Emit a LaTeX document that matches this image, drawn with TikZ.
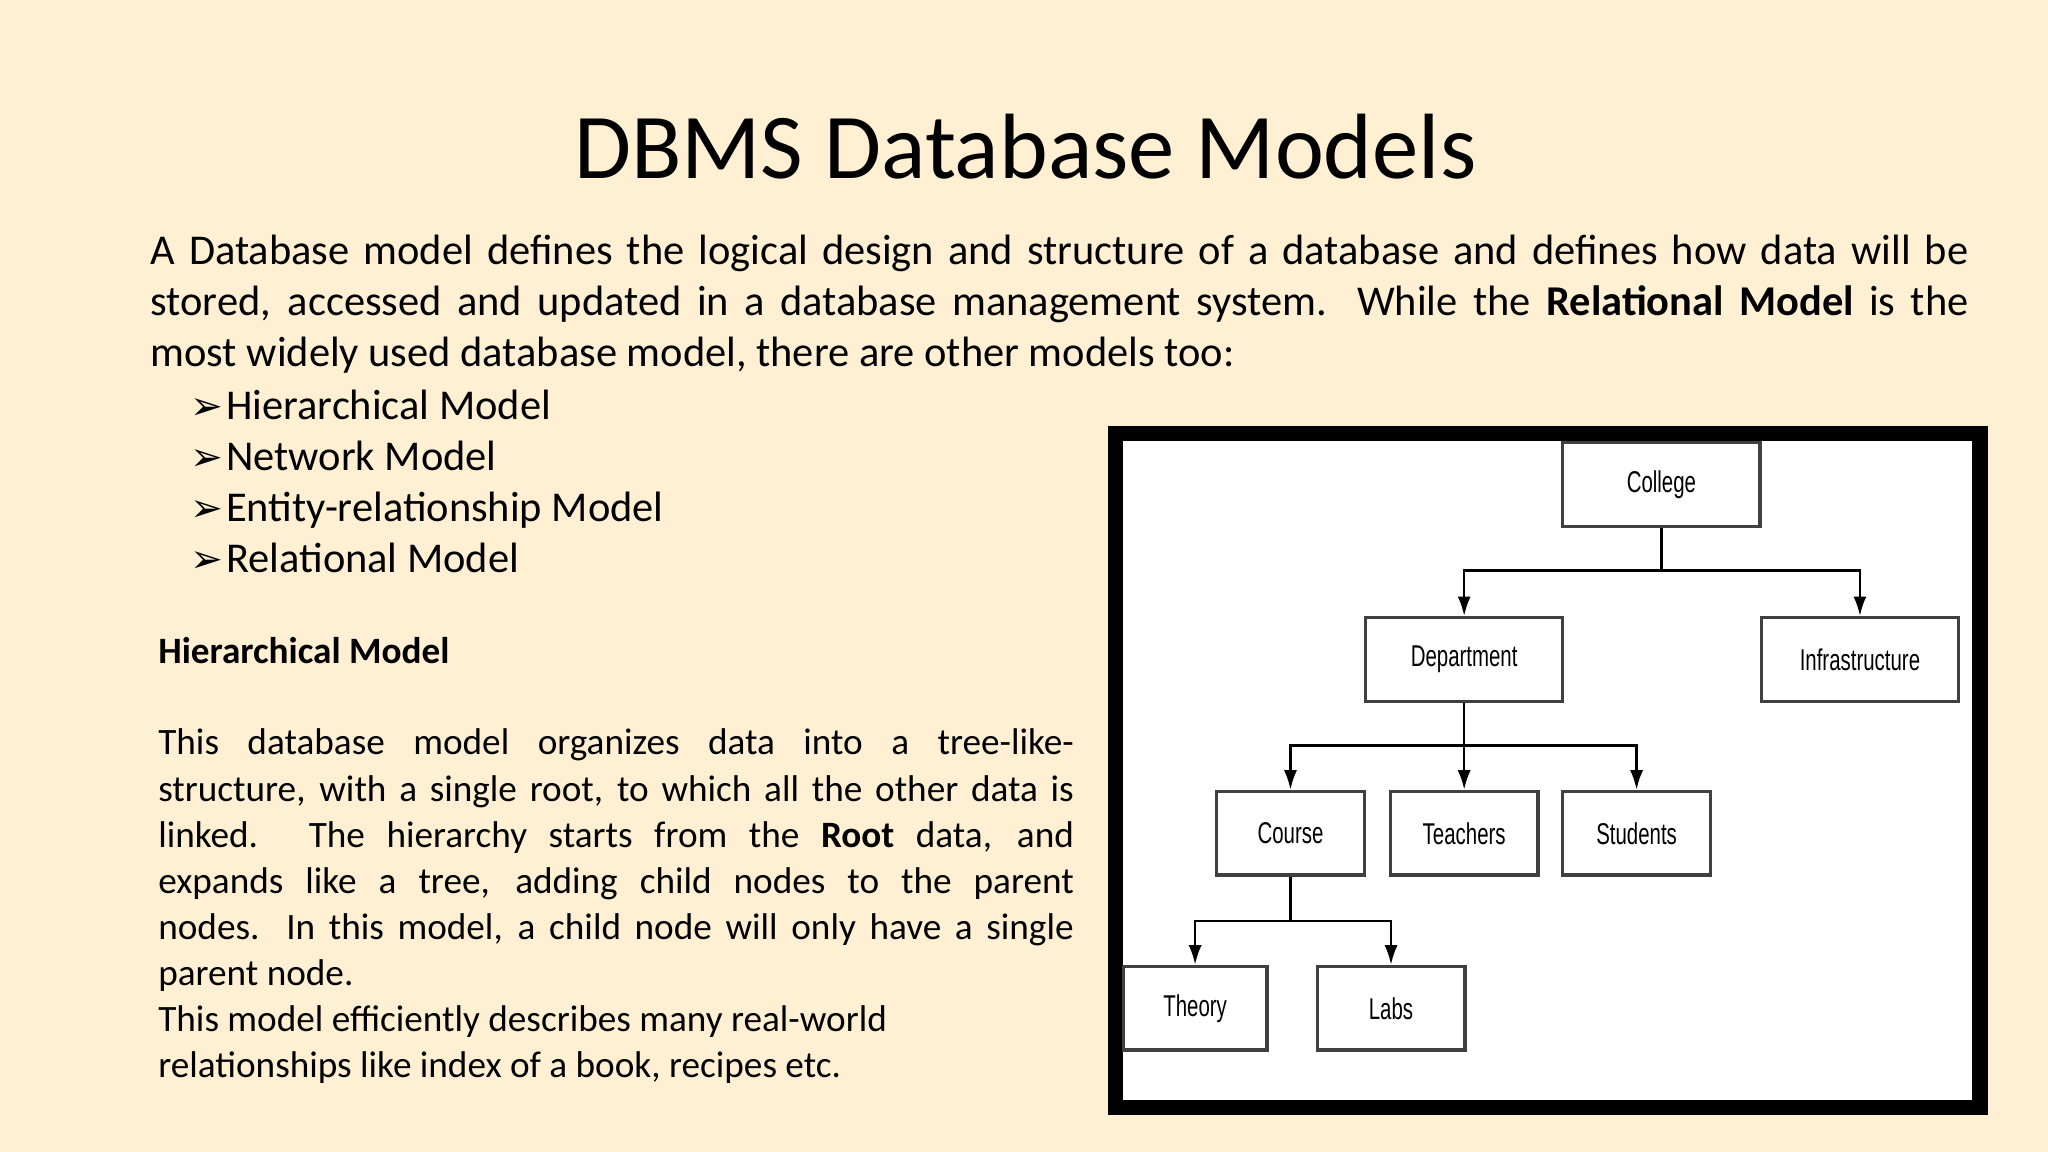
\documentclass[tikz,border=0pt]{standalone}
\usepackage{fontspec}
\setmainfont{Carlito}
\newfontfamily\boxfont{Liberation Sans}
\newfontfamily\symfont{DejaVu Sans}
\usetikzlibrary{arrows.meta}
\definecolor{bg}{HTML}{FFF0D4}
\tikzset{
  tbox/.style={draw=black!75,line width=2.6pt,fill=white,minimum width=#1,minimum height=64pt,inner sep=0pt},
  tlabel/.style={font=\boxfont\fontsize{23}{26}\selectfont},
  conn/.style={line width=2pt,black},
  arr/.style={conn,-{Latex[length=15pt,width=10pt]}},
  bul/.style={anchor=base west,inner sep=0pt,font=\fontsize{32.5}{38}\selectfont},
  bsym/.style={anchor=base west,inner sep=0pt,font=\symfont\fontsize{30}{36}\selectfont}
}
\newcommand{\bx}[1]{\scalebox{0.68}[1]{#1}}
\begin{document}
\begin{tikzpicture}[x=1pt,y=-1pt]
\useasboundingbox (0,0) rectangle (1568,882);
\fill[bg] (0,0) rectangle (1568,882);
\node[font=\fontsize{71}{76}\selectfont,anchor=base] (title) at (785,137) {DBMS Database Models};
\node[anchor=north west,inner sep=0pt,text width=1392pt,align=justify,font=\fontsize{32.5}{39}\selectfont] (intro) at (115,180)
{\hyphenpenalty=10000 A Database model defines the logical design and structure of a database and defines how data will be\linebreak stored, accessed and updated in a database management system. While the \textbf{Relational Model} is the\linebreak most widely used database model, there are other models too:};
\node[bsym] (b1) at (146,321) {➢};
\node[bul] (t1) at (173,321) {Hierarchical Model};
\node[bsym] (b2) at (146,360) {➢};
\node[bul] (t2) at (173,360) {Network Model};
\node[bsym] (b3) at (146,399) {➢};
\node[bul] (t3) at (173,399) {Entity-relationship Model};
\node[bsym] (b4) at (146,438) {➢};
\node[bul] (t4) at (173,438) {Relational Model};
\node[anchor=base west,inner sep=0pt,font=\bfseries\fontsize{28.5}{32}\selectfont] (hm) at (121,508) {Hierarchical Model};
\node[anchor=north west,inner sep=0pt,text width=701pt,align=justify,font=\fontsize{28.5}{35.3}\selectfont] (para) at (121,558)
{\hyphenpenalty=10000 This database model organizes data into a tree-like-\linebreak structure, with a single root, to which all the other data is\linebreak linked. The hierarchy starts from the \textbf{Root} data, and\linebreak expands like a tree, adding child nodes to the parent\linebreak nodes. In this model, a child node will only have a single\linebreak parent node.};
\node[anchor=north west,inner sep=0pt,align=left,font=\fontsize{28.5}{35.3}\selectfont] (para2) at (121,770)
{This model efficiently describes many real-world\\relationships like index of a book, recipes etc.};
% figure frame
\draw[line width=12pt,fill=white] (854,332) rectangle (1516,848);
\node[tbox=151pt] (college) at (1272,371) {}; \node[tlabel] at (college) {\bx{College}};
\node[tbox=151pt] (dept) at (1121,505) {}; \node[tlabel] at (dept) {\bx{Department}};
\node[tbox=151pt] (infra) at (1424,505) {}; \node[tlabel] at (infra) {\bx{Infrastructure}};
\node[tbox=113pt] (course) at (988,638) {}; \node[tlabel] at (course) {\bx{Course}};
\node[tbox=113pt] (teach) at (1121,638) {}; \node[tlabel] at (teach) {\bx{Teachers}};
\node[tbox=113pt] (stud) at (1253,638) {}; \node[tlabel] at (stud) {\bx{Students}};
\node[tbox=110pt] (theory) at (915,772) {}; \node[tlabel] at (theory) {\bx{Theory}};
\node[tbox=113pt] (labs) at (1065,772) {}; \node[tlabel] at (labs) {\bx{Labs}};
\coordinate (j1) at (1272,437);
\coordinate (j2) at (1121,571);
\coordinate (j3) at (988,705);
\draw[conn] (college.south) -- (j1);
\draw[arr] (j1) -| (dept.north);
\draw[arr] (j1) -| (infra.north);
\draw[arr] (dept.south) -- (teach.north);
\draw[arr] (j2) -| (course.north);
\draw[arr] (j2) -| (stud.north);
\draw[conn] (course.south) -- (j3);
\draw[arr] (j3) -| (theory.north);
\draw[arr] (j3) -| (labs.north);
\end{tikzpicture}
\end{document}
